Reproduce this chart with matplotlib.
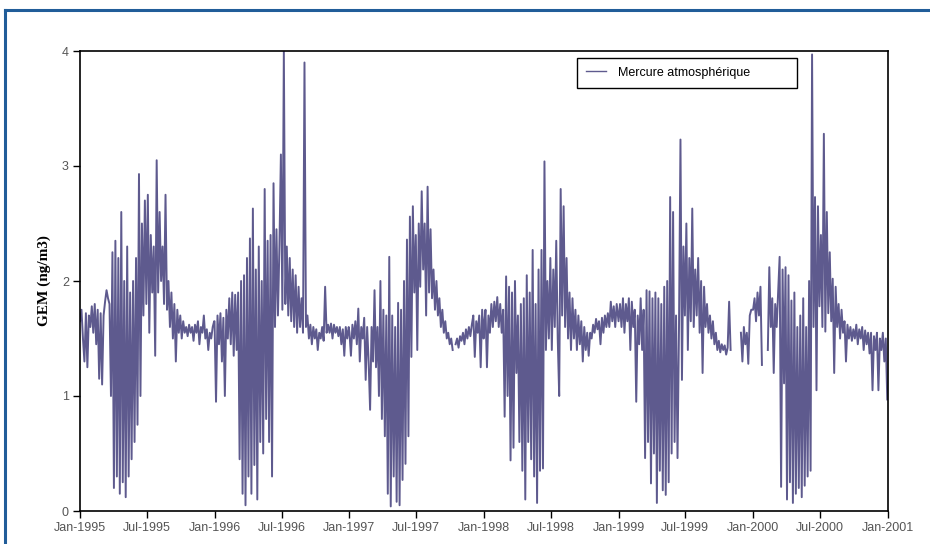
import numpy as np
import pandas as pd
import matplotlib
matplotlib.use('Agg')
import matplotlib.pyplot as plt
import matplotlib.dates as mdates
from matplotlib.lines import Line2D

nan = np.nan

# GEM (ng/m3), one reading every 4 days starting 1 January of each year
gem_1995 = [1.65, 1.75, 1.5, 1.3, 1.72, 1.25, 1.7, 1.6, 1.78, 1.55,
            1.8, 1.45, 1.75, 1.15, 1.72, 1.1, 1.7, 1.82, 1.92, 1.85,
            1.8, 1.0, 2.25, 0.2, 2.35, 0.3, 2.2, 0.15, 2.6, 0.25,
            2.0, 0.12, 2.3, 0.3, 1.9, 0.45, 2.0, 0.6, 2.2, 0.75,
            2.93, 1.0, 2.5, 1.7, 2.7, 1.8, 2.75, 1.55, 2.4, 1.9,
            2.3, 1.35, 3.05, 1.9, 2.6, 2.0, 2.3, 1.8, 2.75, 1.75,
            2.0, 1.6, 1.9, 1.5, 1.8, 1.3, 1.75, 1.55, 1.7, 1.5,
            1.65, 1.55, 1.6, 1.52, 1.62, 1.55, 1.6, 1.48, 1.62, 1.55,
            1.65, 1.45, 1.6, 1.55, 1.7, 1.5, 1.58, 1.4, 1.55, 1.5,
            1.6, 1.65]
gem_1996 = [1.65, 0.95, 1.7, 1.45, 1.72, 1.3, 1.68, 1.0, 1.75, 1.5,
            1.85, 1.45, 1.9, 1.35, 1.88, 1.4, 1.9, 0.45, 2.0, 0.15,
            2.05, 0.05, 2.2, 0.3, 2.37, 0.15, 2.63, 0.4, 2.1, 0.1,
            2.3, 0.6, 2.0, 0.5, 2.8, 0.8, 2.35, 0.6, 2.4, 0.3,
            2.85, 1.6, 2.45, 1.7, 2.3, 3.1, 1.75, 4.0, 1.8, 2.3,
            1.7, 2.2, 1.65, 2.1, 1.6, 2.05, 1.55, 1.95, 1.6, 1.85,
            1.55, 3.9, 1.6, 1.7, 1.5, 1.62, 1.45, 1.6, 1.5, 1.58,
            1.4, 1.55, 1.5, 1.6, 1.48, 1.95, 1.55, 1.62, 1.55, 1.63,
            1.5, 1.62, 1.55, 1.6, 1.52, 1.6, 1.45, 1.58, 1.35, 1.6,
            1.5, 1.6]
gem_1997 = [1.55, 1.35, 1.62, 1.5, 1.65, 1.45, 1.76, 1.3, 1.6, 1.5,
            1.68, 1.14, 1.6, 1.3, 0.88, 1.6, 1.3, 1.92, 1.25, 1.6,
            1.0, 2.0, 0.8, 1.75, 0.65, 1.7, 0.15, 2.21, 0.04, 1.7,
            0.3, 1.6, 0.08, 1.81, 0.05, 1.75, 0.27, 2.0, 0.41, 2.36,
            0.65, 2.56, 1.34, 2.65, 1.9, 2.4, 1.4, 2.5, 1.95, 2.78,
            2.1, 2.5, 1.7, 2.82, 1.9, 2.45, 1.85, 2.1, 1.75, 2.0,
            1.7, 1.85, 1.6, 1.75, 1.55, 1.65, 1.5, 1.55, 1.45, 1.5,
            1.4, nan, 1.45, 1.5, 1.42, 1.52, 1.48, 1.55, 1.45, 1.58,
            1.5, 1.6, 1.52, 1.62, 1.7, 1.34, 1.65, 1.55, 1.7, 1.25,
            1.75, 1.5]
gem_1998 = [1.6, 1.75, 1.25, 1.7, 1.55, 1.8, 1.6, 1.82, 1.65, 1.86,
            1.6, 1.8, 1.55, 1.75, 0.82, 2.04, 1.0, 1.95, 0.44, 1.9,
            0.55, 2.0, 1.2, 1.7, 0.6, 1.8, 0.35, 1.85, 0.1, 2.05,
            0.6, 1.9, 0.45, 2.27, 0.3, 1.8, 0.07, 2.1, 0.35, 2.27,
            0.37, 3.04, 1.4, 2.0, 1.5, 2.2, 1.4, 2.1, 1.6, 2.35,
            1.5, 1.0, 2.8, 1.7, 2.65, 1.6, 2.2, 1.5, 1.9, 1.4,
            1.85, 1.5, 1.75, 1.4, 1.7, 1.45, 1.65, 1.3, 1.6, 1.4,
            1.55, 1.35, 1.55, 1.5, 1.62, 1.55, 1.67, 1.58, 1.65, 1.45,
            1.68, 1.55, 1.7, 1.6, 1.72, 1.6, 1.82, 1.65, 1.78, 1.6,
            1.8]
gem_1999 = [1.65, 1.8, 1.6, 1.85, 1.55, 1.8, 1.65, 1.85, 1.4, 1.82,
            1.6, 1.75, 0.95, 1.7, 1.45, 1.85, 1.4, 1.75, 0.46, 1.92,
            0.6, 1.91, 0.24, 1.85, 0.5, 1.9, 0.07, 1.85, 0.35, 1.8,
            0.18, 1.95, 0.14, 2.0, 0.25, 2.73, 0.5, 2.6, 0.6, 1.7,
            0.46, 1.6, 3.23, 1.14, 2.3, 1.7, 2.5, 1.4, 2.2, 1.65,
            2.63, 1.6, 2.1, 1.7, 2.2, 1.55, 2.0, 1.2, 1.95, 1.6,
            1.8, 1.55, 1.7, 1.5, 1.65, 1.45, 1.55, 1.4, 1.48, 1.38,
            1.45, 1.4, 1.44, 1.36, 1.42, 1.82, 1.4, nan, nan, nan,
            nan, nan, nan, 1.55, 1.3, 1.6, 1.45, 1.55, 1.28, 1.7,
            1.75]
gem_2000 = [1.75, 1.85, 1.65, 1.9, 1.7, 1.95, 1.27, nan, nan, nan,
            1.4, 2.12, 1.6, 1.85, 1.2, 1.8, 1.6, 1.9, 2.21, 0.21,
            2.1, 1.11, 2.12, 0.1, 2.05, 0.25, 1.83, 0.07, 1.9, 0.15,
            1.6, 0.2, 1.7, 0.12, 1.85, 0.22, 1.6, 0.3, 2.0, 0.35,
            3.97, 1.6, 2.73, 1.05, 2.65, 1.78, 2.4, 1.6, 3.28, 1.56,
            2.6, 1.72, 2.25, 1.65, 2.02, 1.2, 1.95, 1.6, 1.8, 1.5,
            1.75, 1.55, 1.65, 1.3, 1.62, 1.5, 1.6, 1.48, 1.58, 1.5,
            1.62, 1.45, 1.58, 1.5, 1.6, 1.4, 1.57, 1.45, 1.55, 1.37,
            1.55, 1.05, 1.52, 1.4, 1.55, 1.05, 1.5, 1.4, 1.55, 1.3,
            1.5, 0.97]

years = [1995, 1996, 1997, 1998, 1999, 2000]
series = [gem_1995, gem_1996, gem_1997, gem_1998, gem_1999, gem_2000]

dates, values = [], []
for year, vals in zip(years, series):
    dates.append(pd.date_range(f'{year}-01-01', periods=len(vals), freq='4D').values)
    values.append(np.array(vals, dtype=float))
dates = np.concatenate(dates)
values = np.concatenate(values)

line_color = '#5e5a8e'
grey = '#555555'

fig = plt.figure(figsize=(9.3, 5.44), dpi=100)
ax = fig.add_axes([80/930, 1 - 511/544, 808/930, 460/544])

ax.plot(dates, values, color=line_color, linewidth=1.4, label='Mercure atmosphérique')

ax.set_xlim(pd.Timestamp('1995-01-01'), pd.Timestamp('2001-01-01'))
ax.set_ylim(0, 4)
ax.set_yticks([0, 1, 2, 3, 4])
ax.xaxis.set_major_locator(mdates.MonthLocator(bymonth=[1, 7]))
ax.xaxis.set_major_formatter(mdates.DateFormatter('%b-%Y'))

for lab in ax.get_xticklabels() + ax.get_yticklabels():
    lab.set_family('Liberation Sans')
ax.tick_params(axis='both', direction='out', length=5, width=1,
               labelsize=9, labelcolor=grey, color='black', pad=3)
for sp in ax.spines.values():
    sp.set_linewidth(1.2)
    sp.set_color('black')

ax.set_ylabel('GEM (ng/m3)', family='Liberation Serif', fontweight='bold',
              fontsize=11, labelpad=8)

leg = ax.legend(loc='upper left', bbox_to_anchor=(497/808, (511-92)/460, 220/808, 34/460),
                mode='expand', borderaxespad=0, fancybox=False, framealpha=1,
                edgecolor='black', prop={'family': 'Liberation Sans', 'size': 9},
                handlelength=1.6, handletextpad=1.0, borderpad=0.7)
leg.get_frame().set_linewidth(1.0)
leg.get_lines()[0].set_linewidth(1.0)

# blue page frame
frame_col = '#215d99'
fig.add_artist(Line2D([4.5/930, 4.5/930], [0, 1 - 10/544], transform=fig.transFigure,
                      color=frame_col, linewidth=2.2))
fig.add_artist(Line2D([4.5/930, 1], [1 - 10/544, 1 - 10/544], transform=fig.transFigure,
                      color=frame_col, linewidth=2.2))

fig.savefig('out.png', dpi=100)
